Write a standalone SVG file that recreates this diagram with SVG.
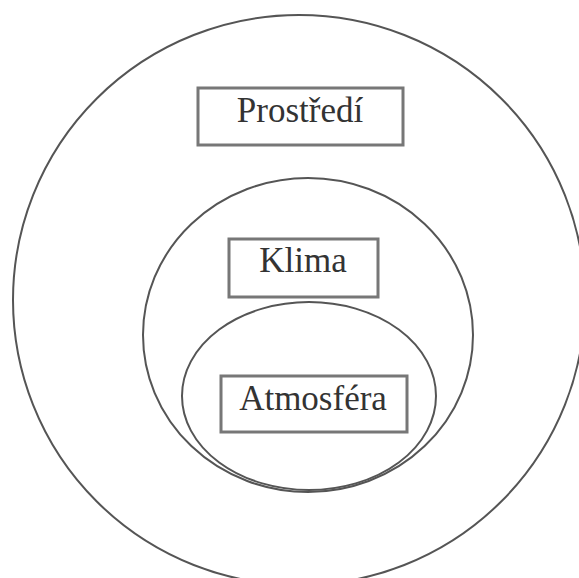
<svg xmlns="http://www.w3.org/2000/svg" width="579" height="578" viewBox="0 0 579 578">
<style>
.ring{fill:none;stroke:#555;stroke-width:2}
.box{fill:#fff;stroke:#777;stroke-width:3}
.lbl{font-family:"Liberation Serif","Times New Roman",serif;font-size:35px;fill:#333;text-anchor:middle}
</style>
<rect width="579" height="578" fill="#fff"/>
<g id="outer"><ellipse class="ring" cx="299" cy="300" rx="286" ry="285"/></g>
<g id="middle"><ellipse class="ring" cx="308" cy="335" rx="165" ry="157"/></g>
<g id="inner"><ellipse class="ring" cx="309" cy="396" rx="127" ry="94"/></g>
<g id="prostredi"><rect class="box" x="198" y="88" width="205" height="57"/><text class="lbl" x="300" y="122">Prostředí</text></g>
<g id="klima"><rect class="box" x="229" y="239" width="149" height="58"/><text class="lbl" x="303" y="272">Klima</text></g>
<g id="atmosfera"><rect class="box" x="221" y="376" width="186" height="56"/><text class="lbl" x="313" y="410">Atmosféra</text></g>
</svg>
